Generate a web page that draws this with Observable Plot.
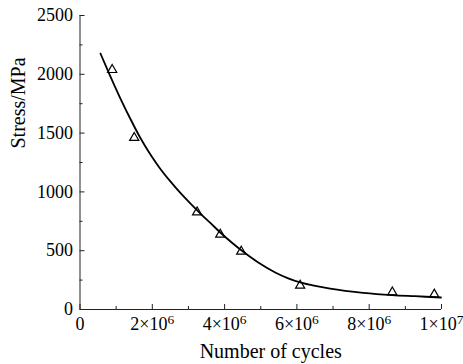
<!DOCTYPE html>
<html>
<head>
<meta charset="utf-8">
<script src="https://cdn.jsdelivr.net/npm/d3@7"></script>
<script src="https://cdn.jsdelivr.net/npm/@observablehq/plot@0.6"></script>
<style>
  html, body { margin: 0; padding: 0; background: #fff; }
  #chart svg { display: block; }
  #chart svg text { font-family: 'Liberation Serif', 'Times New Roman', serif !important; }
</style>
</head>
<body>
<div id="chart"></div>
<script>
// Measured test points (hollow triangles)
const pointCycles = [0.89e6, 1.5e6, 3.24e6, 3.88e6, 4.46e6, 6.09e6, 8.64e6, 9.8e6];
const pointStress = [2038, 1460, 827, 638, 493, 204, 147, 128];

// Fitted curve
const curveCycles = [0.566e6, 0.843e6, 1.119e6, 1.395e6, 1.671e6, 1.948e6, 2.224e6, 2.5e6, 2.776e6, 3.052e6, 3.329e6, 3.605e6, 3.881e6, 4.213e6, 4.489e6, 4.931e6, 5.401e6, 5.76e6, 6.091e6, 6.505e6, 6.92e6, 7.334e6, 7.831e6, 8.633e6, 9.268e6, 9.986e6];
const curveStress = [2177, 1981, 1794, 1620, 1458, 1318, 1195, 1089, 991, 902, 816, 736, 655, 565, 497, 400, 315, 265, 230, 200, 177, 159, 142, 123, 113, 102];

// Axis ticks and labels
const xTicks = [0, 2e6, 4e6, 6e6, 8e6, 1e7];
const xTickLabels = ["0", "2×10^6", "4×10^6", "6×10^6", "8×10^6", "1×10^7"];
const xMinorTicks = [1e6, 3e6, 5e6, 7e6, 9e6];
const yTicks = [0, 500, 1000, 1500, 2000, 2500];
const yTickLabels = ["0", "500", "1000", "1500", "2000", "2500"];
const yMinorTicks = [250, 750, 1250, 1750, 2250];
const xTitle = ["Number of cycles"];
const yTitle = ["Stress/MPa"];

const points = pointCycles.map((x, i) => ({x, y: pointStress[i]}));
const curve = curveCycles.map((x, i) => ({x, y: curveStress[i]}));

const chart = Plot.plot({
  width: 463,
  height: 364,
  marginLeft: 79.5,
  marginRight: 22,
  marginTop: 15,
  marginBottom: 55,
  style: {fontFamily: "'Liberation Serif', 'Times New Roman', serif", fontSize: "17px", color: "#000", background: "#fff"},
  x: {domain: [0, 1e7]},
  y: {domain: [0, 2500]},
  marks: [
    Plot.axisX({ticks: xTicks, tickSize: -5, tickFormat: () => "", label: null, stroke: "#222"}),
    Plot.axisX({ticks: xMinorTicks, tickSize: -3, tickFormat: () => "", label: null, stroke: "#222"}),
    Plot.axisY({ticks: yTicks, tickSize: -5, tickFormat: () => "", label: null, stroke: "#222"}),
    Plot.axisY({ticks: yMinorTicks, tickSize: -3, tickFormat: () => "", label: null, stroke: "#222"}),
    Plot.axisX({ticks: xTicks, tickSize: 0, tickPadding: 8, tickFormat: (d) => xTickLabels[xTicks.indexOf(d)], label: null, fontSize: 18}),
    Plot.axisY({ticks: yTicks, tickSize: 0, tickPadding: 7, tickFormat: (d) => yTickLabels[yTicks.indexOf(d)], label: null, fontSize: 18}),
    Plot.text(xTitle, {frameAnchor: "bottom", text: (d) => d, lineAnchor: "bottom", dx: 10, dy: 48, fontSize: 20, fill: "#000"}),
    Plot.text(yTitle, {frameAnchor: "left", text: (d) => d, rotate: -90, lineAnchor: "middle", dx: -61, dy: -14, fontSize: 20, fill: "#000"}),
    Plot.ruleX([0], {stroke: "#222", strokeWidth: 1}),
    Plot.ruleY([0], {stroke: "#222", strokeWidth: 1}),
    Plot.line(curve, {x: "x", y: "y", curve: "catmull-rom", stroke: "#000", strokeWidth: 1.8}),
    Plot.dot(points, {x: "x", y: "y", symbol: "triangle", r: 3.4, stroke: "#000", strokeWidth: 1.2, fill: "none"})
  ]
});
document.getElementById("chart").appendChild(chart);

// render "a^b" tick labels with a real superscript
d3.select(chart).selectAll("g[aria-label='x-axis tick label'] text").each(function () {
  const t = this.textContent;
  const m = /^(.*)\^(\d+)$/.exec(t);
  if (!m) return;
  const sel = d3.select(this);
  sel.text(m[1]);
  sel.append("tspan").attr("dy", "-0.5em").style("font-size", "0.75em").text(m[2]);
});
</script>
</body>
</html>
